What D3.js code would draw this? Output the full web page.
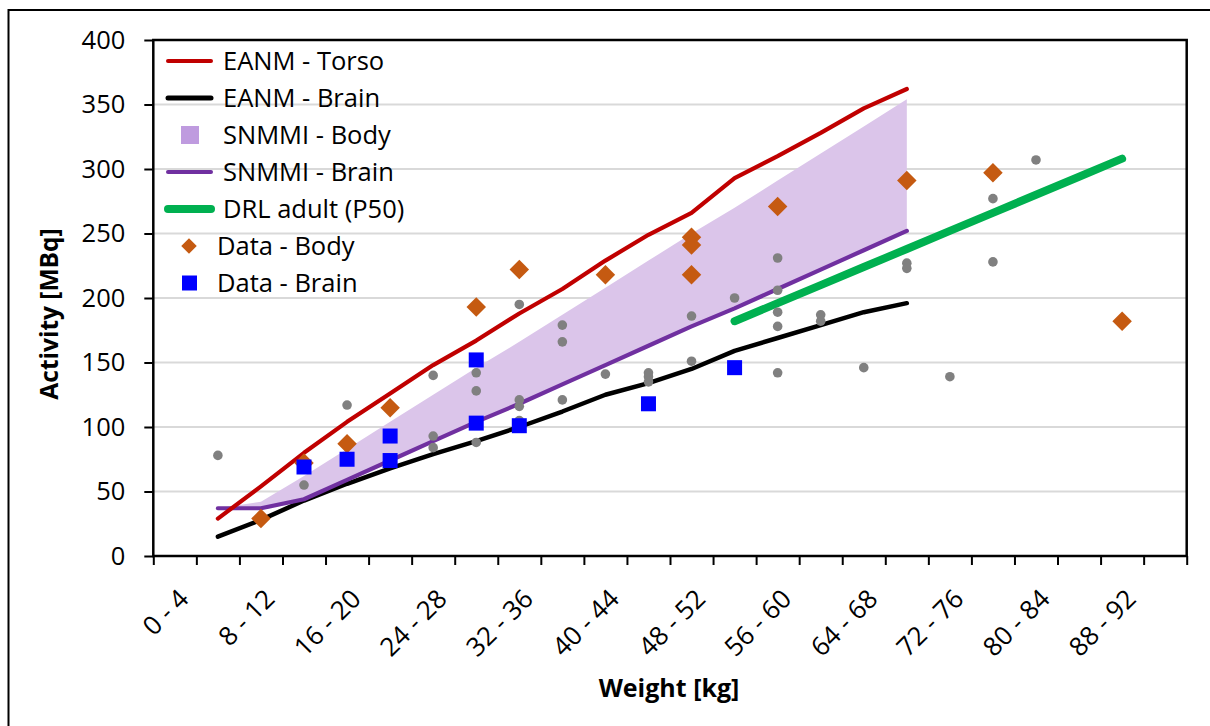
<!DOCTYPE html>
<html lang="en">
<head>
    <meta charset="UTF-8">
    <title>Activity vs weight</title>
    <style>
        body{
            margin:0;
            background:#fff;
        }
        text{
            font-family: "Open Sans", sans-serif;
        }
    </style>
    <script src="https://cdn.jsdelivr.net/npm/d3@7"></script>
</head>
<body>
<div id="container"></div>
<script>

var w = 1210;
var h = 726;

// weight classes on the x axis
var weightCats = ["0 - 4", "4 - 8", "8 - 12", "12 - 16", "16 - 20", "20 - 24", "24 - 28", "28 - 32",
    "32 - 36", "36 - 40", "40 - 44", "44 - 48", "48 - 52", "52 - 56", "56 - 60", "60 - 64",
    "64 - 68", "68 - 72", "72 - 76", "76 - 80", "80 - 84", "84 - 88", "88 - 92", "92 - 96"];

// classes the guideline curves cover
var guideCats = ["4 - 8", "8 - 12", "12 - 16", "16 - 20", "20 - 24", "24 - 28", "28 - 32", "32 - 36",
    "36 - 40", "40 - 44", "44 - 48", "48 - 52", "52 - 56", "56 - 60", "60 - 64", "64 - 68", "68 - 72"];

var eanmTorso = [29, 54, 80, 104, 126, 148, 167, 188, 207, 229, 249, 266, 293, 310, 328, 347, 362];
var eanmBrain = [15, 28, 43, 56, 68, 79, 89, 100, 112, 125, 134, 145, 159, 169, 179, 189, 196];
var snmmiBrain = [37, 37, 44, 59, 74, 89, 104, 118, 133, 148, 163, 178, 192, 207, 222, 237, 252];
var snmmiBodyTop = [37, 42, 62, 83, 104, 125, 146, 166, 187, 208, 229, 250, 270, 291, 312, 333, 354];

var drlCats = ["52 - 56", "56 - 60", "60 - 64", "64 - 68", "68 - 72", "72 - 76", "76 - 80", "80 - 84", "84 - 88", "88 - 92"];
var drlAdult = [182, 196, 210, 224, 238, 252, 266, 280, 294, 308];

var dataBody = [["8 - 12", 29], ["12 - 16", 72], ["16 - 20", 87], ["20 - 24", 115], ["28 - 32", 193],
    ["32 - 36", 222], ["40 - 44", 218], ["48 - 52", 247], ["48 - 52", 241], ["48 - 52", 218],
    ["56 - 60", 271], ["68 - 72", 291], ["76 - 80", 297], ["88 - 92", 182]];

var dataBrain = [["12 - 16", 69], ["16 - 20", 75], ["20 - 24", 93], ["20 - 24", 74], ["28 - 32", 152],
    ["28 - 32", 103], ["32 - 36", 101], ["44 - 48", 118], ["52 - 56", 146]];

var dataOther = [["4 - 8", 78], ["12 - 16", 55], ["16 - 20", 117], ["24 - 28", 140], ["24 - 28", 93],
    ["24 - 28", 84], ["28 - 32", 142], ["28 - 32", 128], ["28 - 32", 88], ["32 - 36", 195],
    ["32 - 36", 121], ["32 - 36", 116], ["32 - 36", 105], ["36 - 40", 179], ["36 - 40", 166],
    ["36 - 40", 121], ["40 - 44", 141], ["44 - 48", 142], ["44 - 48", 139], ["44 - 48", 135],
    ["48 - 52", 186], ["48 - 52", 151], ["52 - 56", 200], ["56 - 60", 231], ["56 - 60", 206],
    ["56 - 60", 189], ["56 - 60", 178], ["56 - 60", 142], ["60 - 64", 187], ["60 - 64", 182],
    ["64 - 68", 146], ["68 - 72", 227], ["68 - 72", 223], ["72 - 76", 139], ["76 - 80", 277],
    ["76 - 80", 228], ["80 - 84", 307]];

var yTicks = [0, 50, 100, 150, 200, 250, 300, 350, 400];

var plotLeft = 153.3, plotRight = 1186.7, plotTop = 40, plotBottom = 556;

var xScale = d3.scaleBand().domain(weightCats).range([plotLeft, plotRight]).padding(0);
var xEdges = d3.scaleLinear().domain([0, weightCats.length]).range([plotLeft, plotRight]);
var yScale = d3.scaleLinear().domain([0, 400]).range([plotBottom, plotTop]);

function cx(c) {
    return xScale(c) + xScale.bandwidth() / 2;
}

var svg = d3.select("#container")
        .append("svg")
        .attr("width", w)
        .attr("height", h);

svg.append("rect").attr("width", w).attr("height", h).attr("fill", "#fff");

// chart border (runs off the right and bottom)
svg.append("rect")
        .attr("x", 8.5).attr("y", 10)
        .attr("width", 1300).attr("height", 800)
        .attr("fill", "none")
        .attr("stroke", "#000")
        .attr("stroke-width", 2);

// gridlines
svg.selectAll(".grid")
        .data(yTicks.filter(function (d) { return d > 0 && d < 400; }))
        .enter()
        .append("line")
        .attr("x1", plotLeft).attr("x2", plotRight)
        .attr("y1", function (d) { return yScale(d); })
        .attr("y2", function (d) { return yScale(d); })
        .attr("stroke", "#d9d9d9")
        .attr("stroke-width", 2);

// SNMMI body band
var area = d3.area()
        .x(function (d, i) { return cx(guideCats[i]); })
        .y0(function (d, i) { return yScale(snmmiBrain[i]); })
        .y1(function (d) { return yScale(d); });

svg.append("path")
        .datum(snmmiBodyTop)
        .attr("d", area)
        .attr("fill", "#dbc5ea");

var line = d3.line()
        .x(function (d, i) { return cx(guideCats[i]); })
        .y(function (d) { return yScale(d); });

var lines = [
    {vals: eanmBrain, color: "#000000", width: 4.5},
    {vals: snmmiBrain, color: "#7030a0", width: 4.2},
    {vals: eanmTorso, color: "#c00000", width: 4.2}
];

lines.forEach(function (l) {
    svg.append("path")
            .datum(l.vals)
            .attr("d", line)
            .attr("fill", "none")
            .attr("stroke", l.color)
            .attr("stroke-width", l.width)
            .attr("stroke-linecap", "round")
            .attr("stroke-linejoin", "round");
});

var drlLine = d3.line()
        .x(function (d, i) { return cx(drlCats[i]); })
        .y(function (d) { return yScale(d); });

svg.append("path")
        .datum(drlAdult)
        .attr("d", drlLine)
        .attr("fill", "none")
        .attr("stroke", "#00b050")
        .attr("stroke-width", 8)
        .attr("stroke-linecap", "round");

// points
svg.selectAll(".other")
        .data(dataOther)
        .enter()
        .append("circle")
        .attr("cx", function (d) { return cx(d[0]); })
        .attr("cy", function (d) { return yScale(d[1]); })
        .attr("r", 4.8)
        .attr("fill", "#808080");

var diamond = d3.symbol().type(d3.symbolSquare).size(190);

svg.selectAll(".body")
        .data(dataBody)
        .enter()
        .append("path")
        .attr("d", diamond)
        .attr("transform", function (d) {
            return "translate(" + cx(d[0]) + "," + yScale(d[1]) + ") rotate(45)";
        })
        .attr("fill", "#c55a11");

svg.selectAll(".brain")
        .data(dataBrain)
        .enter()
        .append("rect")
        .attr("x", function (d) { return cx(d[0]) - 7.5; })
        .attr("y", function (d) { return yScale(d[1]) - 7.5; })
        .attr("width", 15)
        .attr("height", 15)
        .attr("fill", "#0000ff");

// plot frame
svg.append("rect")
        .attr("x", plotLeft).attr("y", plotTop)
        .attr("width", plotRight - plotLeft).attr("height", plotBottom - plotTop)
        .attr("fill", "none")
        .attr("stroke", "#000")
        .attr("stroke-width", 2.5);

// y axis
var yAxis = svg.append("g")
        .attr("transform", "translate(" + plotLeft + ",0)")
        .call(d3.axisLeft(yScale).tickValues(yTicks).tickSize(9).tickPadding(19));
yAxis.select(".domain").remove();
yAxis.selectAll("line").attr("stroke", "#000").attr("stroke-width", 2);
yAxis.selectAll("text")
        .attr("font-family", "Open Sans, sans-serif")
        .attr("font-size", "25.5px")
        .attr("fill", "#000");

// x axis ticks on class edges
var xAxis = svg.append("g")
        .attr("transform", "translate(0," + plotBottom + ")")
        .call(d3.axisBottom(xEdges).ticks(weightCats.length).tickSize(9).tickFormat(""));
xAxis.select(".domain").remove();
xAxis.selectAll("line").attr("stroke", "#000").attr("stroke-width", 2);

svg.selectAll(".xlab")
        .data(weightCats.filter(function (d, i) { return i % 2 === 0; }))
        .enter()
        .append("text")
        .text(function (d) { return d; })
        .attr("text-anchor", "end")
        .attr("dy", "0.35em")
        .attr("transform", function (d) {
            return "translate(" + (cx(d) + 9) + ",594) rotate(-45)";
        })
        .attr("font-size", "26px")
        .attr("fill", "#000");

// axis titles
svg.append("text")
        .text("Weight [kg]")
        .attr("x", 669).attr("y", 697)
        .attr("text-anchor", "middle")
        .attr("font-size", "25px")
        .attr("font-weight", "bold");

svg.append("text")
        .text("Activity [MBq]")
        .attr("transform", "translate(58,314) rotate(-90)")
        .attr("text-anchor", "middle")
        .attr("font-size", "24.5px")
        .attr("font-weight", "bold");

// legend
var legend = [
    {name: "EANM - Torso", kind: "line", color: "#c00000", width: 4},
    {name: "EANM - Brain", kind: "line", color: "#000000", width: 5},
    {name: "SNMMI - Body", kind: "fill", color: "#bf9bdf"},
    {name: "SNMMI - Brain", kind: "line", color: "#7030a0", width: 4},
    {name: "DRL adult (P50)", kind: "line", color: "#00b050", width: 8},
    {name: "Data - Body", kind: "diamond", color: "#c55a11"},
    {name: "Data - Brain", kind: "square", color: "#0000ff"}
];

var lg = svg.selectAll(".legend")
        .data(legend)
        .enter()
        .append("g")
        .attr("transform", function (d, i) {
            return "translate(0," + (61 + i * 37) + ")";
        });

lg.each(function (d) {
    var g = d3.select(this);
    if (d.kind === "line") {
        g.append("line").attr("x1", 168).attr("x2", 211)
                .attr("stroke", d.color).attr("stroke-width", d.width)
                .attr("stroke-linecap", "round");
    } else if (d.kind === "fill") {
        g.append("rect").attr("x", 181).attr("y", -9).attr("width", 18).attr("height", 18)
                .attr("fill", d.color);
    } else if (d.kind === "diamond") {
        g.append("path").attr("d", d3.symbol().type(d3.symbolSquare).size(120))
                .attr("transform", "translate(189,0) rotate(45)")
                .attr("fill", d.color);
    } else {
        g.append("rect").attr("x", 182).attr("y", -7.5).attr("width", 15).attr("height", 15)
                .attr("fill", d.color);
    }
    g.append("text")
            .text(d.name)
            .attr("x", (d.kind === "diamond" || d.kind === "square") ? 217 : 223)
            .attr("dy", "0.35em")
            .attr("font-size", "25.5px")
            .attr("fill", "#000");
});

</script>
</body>
</html>
